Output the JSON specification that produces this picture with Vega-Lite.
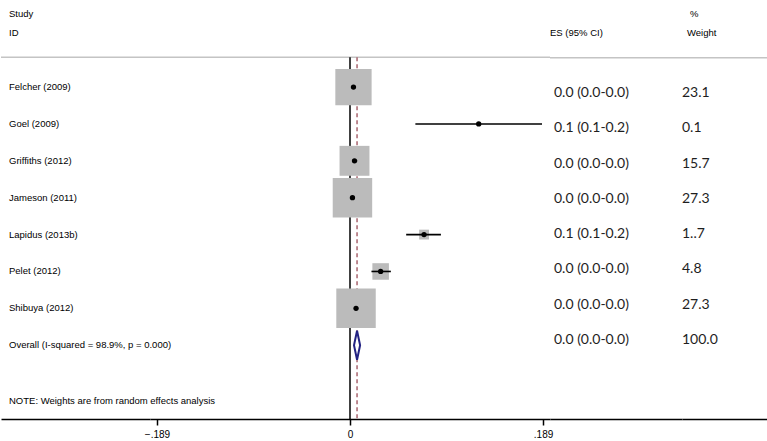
{
  "$schema": "https://vega.github.io/schema/vega-lite/v6.json",
  "padding": 0,
  "spacing": 0,
  "bounds": "flush",
  "config": {"view": {"stroke": null}, "axis": {"grid": false}, "concat": {"spacing": 0}},
  "datasets": {
    "rows": [
      {"order": 1, "study": "Felcher (2009)", "type": "study", "es": 0.0034, "lo": 0.0012, "hi": 0.0056, "weight": 23.1, "esci": "0.0 (0.0-0.0)", "wlabel": "23.1"},
      {"order": 2, "study": "Goel (2009)", "type": "study", "es": 0.126, "lo": 0.064, "hi": 0.188, "weight": 0.1, "esci": "0.1 (0.1-0.2)", "wlabel": "0.1"},
      {"order": 3, "study": "Griffiths (2012)", "type": "study", "es": 0.0044, "lo": 0.002, "hi": 0.007, "weight": 15.7, "esci": "0.0 (0.0-0.0)", "wlabel": "15.7"},
      {"order": 4, "study": "Jameson (2011)", "type": "study", "es": 0.0024, "lo": 0.001, "hi": 0.004, "weight": 27.3, "esci": "0.0 (0.0-0.0)", "wlabel": "27.3"},
      {"order": 5, "study": "Lapidus (2013b)", "type": "study", "es": 0.0725, "lo": 0.055, "hi": 0.089, "weight": 1.7, "esci": "0.1 (0.1-0.2)", "wlabel": "1..7"},
      {"order": 6, "study": "Pelet (2012)", "type": "study", "es": 0.030, "lo": 0.021, "hi": 0.040, "weight": 4.8, "esci": "0.0 (0.0-0.0)", "wlabel": "4.8"},
      {"order": 7, "study": "Shibuya (2012)", "type": "study", "es": 0.0059, "lo": 0.004, "hi": 0.008, "weight": 27.3, "esci": "0.0 (0.0-0.0)", "wlabel": "27.3"},
      {"order": 8, "study": "Overall  (I-squared = 98.9%, p = 0.000)", "type": "overall", "es": 0.0069, "lo": 0.004, "hi": 0.0098, "weight": 100, "esci": "0.0 (0.0-0.0)", "wlabel": "100.0"}
    ]
  },
  "data": {"name": "rows"},
  "hconcat": [
    {
      "width": 149, "height": 419,
      "layer": [
        {
          "data": {"values": [{}]},
          "mark": {"type": "rule", "color": "#c4c4c4", "strokeWidth": 1.5},
          "encoding": {"y": {"datum": 0.19, "type": "quantitative", "scale": {"domain": [-1.36, 10], "reverse": true, "nice": false, "zero": false}, "axis": null}}
        },
        {
          "mark": {"type": "text", "align": "left", "baseline": "middle", "dx": 8, "font": "Liberation Sans", "fontSize": 9.5, "color": "black"},
          "encoding": {
            "x": {"datum": 0, "type": "quantitative", "scale": {"domain": [0, 1], "nice": false, "zero": false}, "axis": {"labels": false, "ticks": false, "title": null, "domainColor": "black", "domainWidth": 1.5}},
            "y": {"field": "order", "type": "quantitative", "scale": {"domain": [-1.36, 10], "reverse": true, "nice": false, "zero": false}, "axis": null},
            "text": {"field": "study"}
          }
        },
        {
          "data": {"values": [{}]},
          "mark": {"type": "text", "align": "left", "baseline": "middle", "dx": 8, "font": "Liberation Sans", "fontSize": 9.5, "color": "black", "text": "Study"},
          "encoding": {
            "x": {"datum": 0, "type": "quantitative", "scale": {"domain": [0, 1], "nice": false, "zero": false}},
            "y": {"datum": -0.98, "type": "quantitative", "scale": {"domain": [-1.36, 10], "reverse": true, "nice": false, "zero": false}}
          }
        },
        {
          "data": {"values": [{}]},
          "mark": {"type": "text", "align": "left", "baseline": "middle", "dx": 8, "font": "Liberation Sans", "fontSize": 9.5, "color": "black", "text": "ID"},
          "encoding": {
            "x": {"datum": 0, "type": "quantitative", "scale": {"domain": [0, 1], "nice": false, "zero": false}},
            "y": {"datum": -0.465, "type": "quantitative", "scale": {"domain": [-1.36, 10], "reverse": true, "nice": false, "zero": false}}
          }
        },
        {
          "data": {"values": [{}]},
          "mark": {"type": "text", "align": "left", "baseline": "middle", "dx": 8, "font": "Liberation Sans", "fontSize": 9.5, "color": "black", "text": "NOTE: Weights are from random effects analysis"},
          "encoding": {
            "x": {"datum": 0, "type": "quantitative", "scale": {"domain": [0, 1], "nice": false, "zero": false}},
            "y": {"datum": 9.51, "type": "quantitative", "scale": {"domain": [-1.36, 10], "reverse": true, "nice": false, "zero": false}}
          }
        }
      ]
    },
    {
      "width": 400, "height": 419,
      "layer": [
        {
          "data": {"values": [{}]},
          "mark": {"type": "rule", "color": "#c4c4c4", "strokeWidth": 1.5},
          "encoding": {"y": {"datum": 0.19, "type": "quantitative", "scale": {"domain": [-1.36, 10], "reverse": true, "nice": false, "zero": false}, "axis": null}}
        },
        {
          "data": {"values": [{}]},
          "mark": {"type": "rule", "color": "black", "strokeWidth": 1.5},
          "encoding": {
            "x": {"datum": 0, "type": "quantitative",
              "scale": {"domain": [-0.1958, 0.1958], "nice": false, "zero": false},
              "axis": {"values": [-0.189, 0, 0.189], "labelExpr": "datum.value == 0 ? '0' : replace(format(datum.value, '.3f'), '0.', '.')", "title": null, "tickSize": 6, "tickColor": "black", "tickWidth": 1.5, "domainColor": "black", "domainWidth": 1.5, "labelFont": "Liberation Sans", "labelFontSize": 10, "labelColor": "black", "labelPadding": 4}},
            "y": {"datum": 0.19, "type": "quantitative", "scale": {"domain": [-1.36, 10], "reverse": true, "nice": false, "zero": false}},
            "y2": {"datum": 10}
          }
        },
        {
          "transform": [{"filter": "datum.type == 'overall'"}],
          "mark": {"type": "rule", "color": "#a8646e", "strokeWidth": 1.5, "strokeDash": [4, 3]},
          "encoding": {
            "x": {"field": "es", "type": "quantitative"},
            "y": {"datum": 0.19, "type": "quantitative", "scale": {"domain": [-1.36, 10], "reverse": true, "nice": false, "zero": false}},
            "y2": {"datum": 10}
          }
        },
        {
          "transform": [{"filter": "datum.type == 'study'"}],
          "mark": {"type": "square", "filled": true, "color": "#bbbbbb", "opacity": 1},
          "encoding": {
            "x": {"field": "es", "type": "quantitative"},
            "y": {"field": "order", "type": "quantitative", "scale": {"domain": [-1.36, 10], "reverse": true, "nice": false, "zero": false}},
            "size": {"field": "weight", "type": "quantitative", "scale": {"domain": [0, 100], "range": [0, 5700]}, "legend": null}
          }
        },
        {
          "transform": [{"filter": "datum.type == 'study'"}],
          "mark": {"type": "rule", "color": "black", "strokeWidth": 1.6},
          "encoding": {
            "x": {"field": "lo", "type": "quantitative"},
            "x2": {"field": "hi"},
            "y": {"field": "order", "type": "quantitative", "scale": {"domain": [-1.36, 10], "reverse": true, "nice": false, "zero": false}}
          }
        },
        {
          "transform": [{"filter": "datum.type == 'study'"}],
          "mark": {"type": "point", "filled": true, "color": "black", "opacity": 1, "size": 28, "shape": "circle"},
          "encoding": {
            "x": {"field": "es", "type": "quantitative"},
            "y": {"field": "order", "type": "quantitative", "scale": {"domain": [-1.36, 10], "reverse": true, "nice": false, "zero": false}}
          }
        },
        {
          "transform": [{"filter": "datum.type == 'overall'"}],
          "mark": {"type": "point", "filled": true, "fill": "white", "stroke": "#232383", "strokeWidth": 2, "opacity": 1, "size": 841, "shape": "M0,-1L0.21,0L0,1L-0.21,0Z"},
          "encoding": {
            "x": {"field": "es", "type": "quantitative"},
            "y": {"field": "order", "type": "quantitative", "scale": {"domain": [-1.36, 10], "reverse": true, "nice": false, "zero": false}}
          }
        }
      ]
    },
    {
      "width": 132, "height": 419,
      "layer": [
        {
          "data": {"values": [{}]},
          "mark": {"type": "rule", "color": "#c4c4c4", "strokeWidth": 1.5},
          "encoding": {"y": {"datum": 0, "type": "quantitative", "scale": {"domain": [-1.635, 10.238], "reverse": true, "nice": false, "zero": false}, "axis": null}}
        },
        {
          "mark": {"type": "text", "align": "left", "baseline": "middle", "dx": 4, "font": "Lato", "fontSize": 14, "color": "#1e1e1e"},
          "encoding": {
            "x": {"datum": 0, "type": "quantitative", "scale": {"domain": [0, 1], "nice": false, "zero": false}, "axis": {"labels": false, "ticks": false, "title": null, "domainColor": "black", "domainWidth": 1.5}},
            "y": {"field": "order", "type": "quantitative", "scale": {"domain": [-1.635, 10.238], "reverse": true, "nice": false, "zero": false}, "axis": null},
            "text": {"field": "esci"}
          }
        },
        {
          "data": {"values": [{}]},
          "mark": {"type": "text", "align": "left", "baseline": "middle", "dx": 0, "font": "Liberation Sans", "fontSize": 9.5, "color": "black", "text": "ES (95% CI)"},
          "encoding": {
            "x": {"datum": 0, "type": "quantitative", "scale": {"domain": [0, 1], "nice": false, "zero": false}},
            "y": {"datum": -0.7, "type": "quantitative", "scale": {"domain": [-1.635, 10.238], "reverse": true, "nice": false, "zero": false}}
          }
        }
      ]
    },
    {
      "width": 86, "height": 419,
      "layer": [
        {
          "data": {"values": [{}]},
          "mark": {"type": "rule", "color": "#c4c4c4", "strokeWidth": 1.5},
          "encoding": {"y": {"datum": 0, "type": "quantitative", "scale": {"domain": [-1.635, 10.238], "reverse": true, "nice": false, "zero": false}, "axis": null}}
        },
        {
          "mark": {"type": "text", "align": "left", "baseline": "middle", "dx": 0, "font": "Lato", "fontSize": 14, "color": "#1e1e1e"},
          "encoding": {
            "x": {"datum": 0, "type": "quantitative", "scale": {"domain": [0, 1], "nice": false, "zero": false}, "axis": {"labels": false, "ticks": false, "title": null, "domainColor": "black", "domainWidth": 1.5}},
            "y": {"field": "order", "type": "quantitative", "scale": {"domain": [-1.635, 10.238], "reverse": true, "nice": false, "zero": false}, "axis": null},
            "text": {"field": "wlabel"}
          }
        },
        {
          "data": {"values": [{}]},
          "mark": {"type": "text", "align": "left", "baseline": "middle", "dx": 8, "font": "Liberation Sans", "fontSize": 9.5, "color": "black", "text": "%"},
          "encoding": {
            "x": {"datum": 0, "type": "quantitative", "scale": {"domain": [0, 1], "nice": false, "zero": false}},
            "y": {"datum": -1.24, "type": "quantitative", "scale": {"domain": [-1.635, 10.238], "reverse": true, "nice": false, "zero": false}}
          }
        },
        {
          "data": {"values": [{}]},
          "mark": {"type": "text", "align": "left", "baseline": "middle", "dx": 5, "font": "Liberation Sans", "fontSize": 9.5, "color": "black", "text": "Weight"},
          "encoding": {
            "x": {"datum": 0, "type": "quantitative", "scale": {"domain": [0, 1], "nice": false, "zero": false}},
            "y": {"datum": -0.7, "type": "quantitative", "scale": {"domain": [-1.635, 10.238], "reverse": true, "nice": false, "zero": false}}
          }
        }
      ]
    }
  ]
}
